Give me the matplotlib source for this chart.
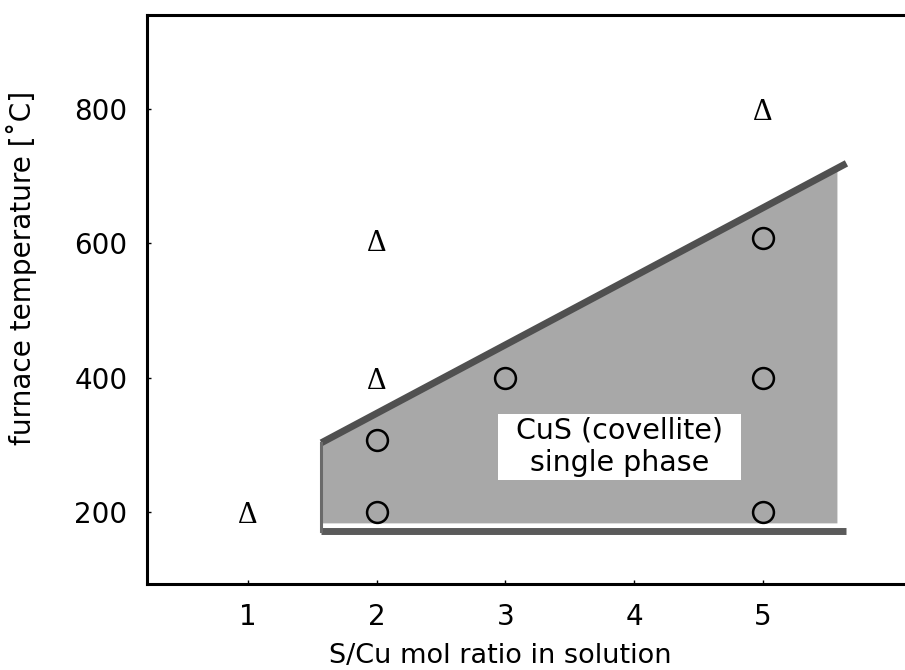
import matplotlib
matplotlib.use("Agg")
import matplotlib.pyplot as plt
import matplotlib.transforms as mtransforms
from matplotlib.patches import Rectangle

# experimental points: circles = CuS single phase, deltas = mixed
circle_ratio = [2, 2, 3, 5, 5, 5]
circle_temp = [200, 307, 400, 200, 400, 608]
delta_ratio = [1, 2, 2, 5]
delta_temp = [200, 400, 605, 800]

# CuS single phase field
field_ratio = [1.57, 5.58, 5.58, 1.57]
field_temp = [303, 712, 183, 183]
edge_ratio = [1.57, 5.65]
edge_temp = [303, 719]
floor_temp = [172, 172]

x_ticks = [1, 2, 3, 4, 5]
y_ticks = [200, 400, 600, 800]

plt.rcParams["font.family"] = ["DejaVu Sans"]

fig = plt.figure(figsize=(9.05, 6.70), dpi=100)
ax = fig.add_axes([0.1624, 0.1284, 0.8376, 0.8493])

ax.fill(field_ratio, field_temp, color="#a8a8a8", lw=0, zorder=1)
ax.plot(edge_ratio, edge_temp, color="#505050", lw=5, solid_capstyle="butt", zorder=2)
ax.plot(edge_ratio, floor_temp, color="#5a5a5a", lw=5, solid_capstyle="butt", zorder=2)
ax.plot([field_ratio[0], field_ratio[0]], [floor_temp[0], field_temp[0]],
        color="#6a6a6a", lw=2.2, zorder=2)

ax.plot(circle_ratio, circle_temp, "o", ms=15, mfc="none", mec="black", mew=1.8, zorder=4)

# the delta glyph sits a little high when centred, nudge it down
delta_trans = ax.transData + mtransforms.ScaledTranslation(0, -4 / 100, fig.dpi_scale_trans)
for x, y in zip(delta_ratio, delta_temp):
    ax.text(x, y, "Δ", family=["Liberation Serif", "DejaVu Serif"], fontsize=22,
            ha="center", va="center", transform=delta_trans, zorder=4)

ax.set_xlim(0.215, 6.105)
ax.set_ylim(92.8, 940)
ax.set_xticks(x_ticks)
ax.set_yticks(y_ticks)
ax.tick_params(direction="in", length=3, width=1, labelsize=20, pad=14)
for side in ["left", "top", "bottom"]:
    ax.spines[side].set_linewidth(2.2)
ax.spines["right"].set_visible(False)

ax.set_xlabel("S/Cu mol ratio in solution", fontsize=19.5)
ax.xaxis.set_label_coords(0.466, -0.103)
ax.set_ylabel("furnace temperature [˚C]", fontsize=20.2)
ax.yaxis.set_label_coords(-0.145, 0.555)

# field label with a white box that hugs the text vertically
label = ax.text(3.89, 297, "CuS (covellite)\nsingle phase", fontsize=20.5,
                ha="center", va="center", zorder=5)
fig.canvas.draw()
bb = label.get_window_extent()
(x0, y0), (x1, y1) = ax.transData.inverted().transform([[bb.x0 - 18, bb.y0 - 3],
                                                        [bb.x1 + 18, bb.y1 + 3]])
ax.add_patch(Rectangle((x0, y0), x1 - x0, y1 - y0, facecolor="white",
                       edgecolor="none", zorder=3))

fig.savefig("out.png", dpi=100)
